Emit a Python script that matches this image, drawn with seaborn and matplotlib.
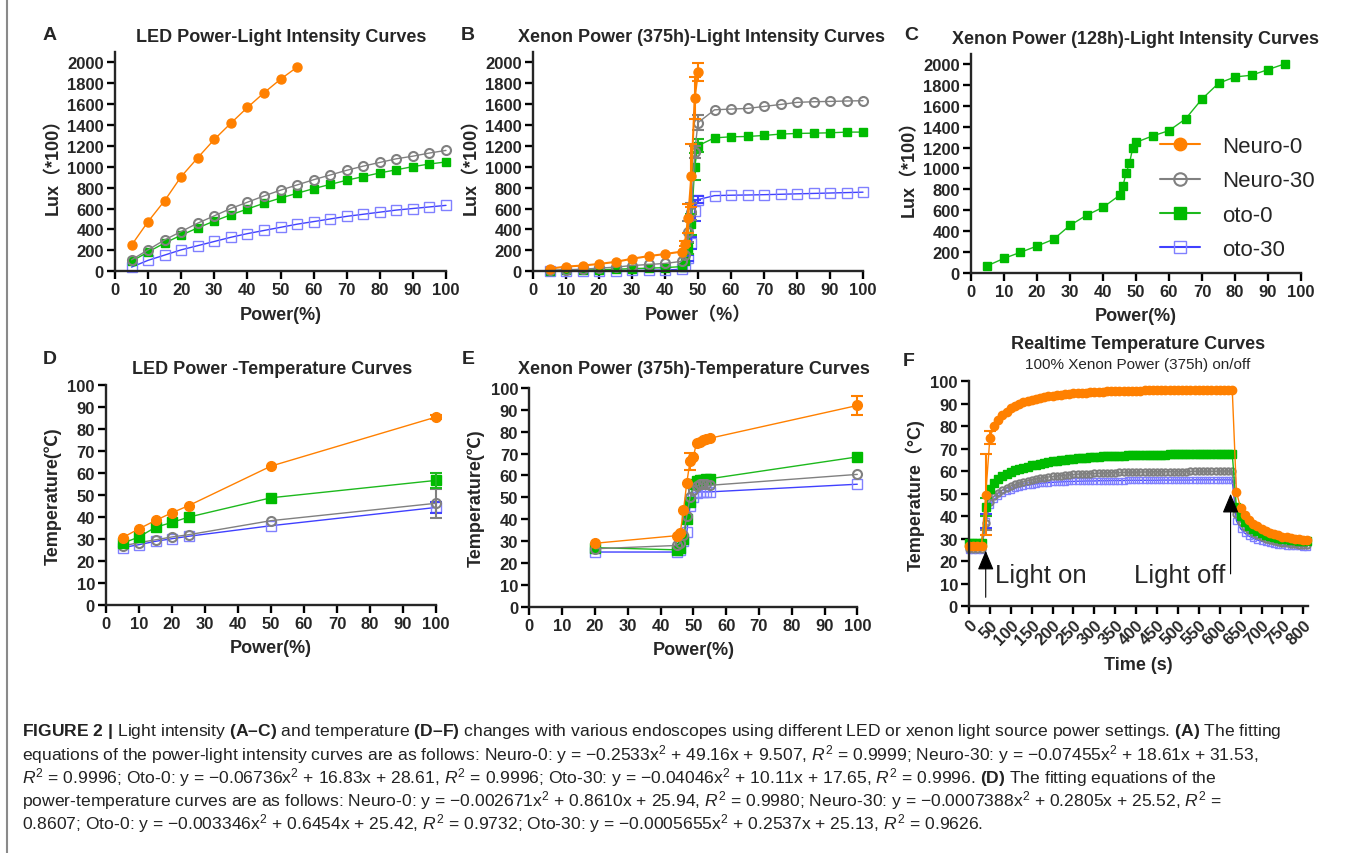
import matplotlib
matplotlib.use("Agg")
import numpy as np
import pandas as pd
import seaborn as sns
import matplotlib.pyplot as plt
from matplotlib.lines import Line2D

W, H = 1355, 854

# ---------------- data ----------------
series_names = ["Neuro-0", "Neuro-30", "oto-0", "oto-30"]

# A: LED power vs lux
a_power_n0 = [5, 10, 15, 20, 25, 30, 35, 40, 45, 50, 55]
a_lux_n0 = [250, 475, 675, 905, 1085, 1260, 1415, 1565, 1705, 1835, 1950]
a_power = [5, 10, 15, 20, 25, 30, 35, 40, 45, 50, 55, 60, 65, 70, 75, 80, 85, 90, 95, 100]
a_lux_n30 = [110, 205, 300, 380, 460, 530, 600, 660, 720, 775, 825, 875, 920, 965, 1005, 1040, 1075, 1100, 1130, 1155]
a_lux_o0 = [95, 185, 270, 345, 415, 480, 540, 595, 650, 700, 745, 790, 830, 870, 905, 940, 970, 1000, 1025, 1045]
a_lux_o30 = [40, 105, 155, 205, 245, 285, 325, 360, 390, 420, 450, 475, 500, 525, 545, 565, 585, 600, 615, 630]

# B: xenon (375h) power vs lux
b_power_n0 = [5, 10, 15, 20, 25, 30, 35, 40, 45, 46, 47, 48, 49, 50]
b_lux_n0 = [25, 45, 55, 70, 90, 120, 145, 165, 188, 265, 505, 915, 1655, 1905]
b_err_n0 = [0, 0, 0, 0, 0, 0, 0, 0, 0, 25, 140, 300, 200, 85]
b_power = [5, 10, 15, 20, 25, 30, 35, 40, 45, 46, 47, 48, 49, 50, 55, 60, 65, 70, 75, 80, 85, 90, 95, 100]
b_lux_n30 = [10, 15, 20, 30, 40, 55, 65, 75, 95, 160, 380, 570, 1140, 1420, 1543, 1550, 1556, 1575, 1594, 1614, 1620, 1623, 1627, 1630]
b_err_n30 = [0, 0, 0, 0, 0, 0, 0, 0, 0, 0, 100, 80, 60, 70, 0, 0, 0, 0, 0, 0, 0, 0, 0, 0]
b_lux_o0 = [5, 10, 12, 15, 20, 25, 30, 35, 45, 100, 220, 450, 1000, 1200, 1275, 1285, 1288, 1298, 1311, 1317, 1320, 1323, 1330, 1330]
b_err_o0 = [0, 0, 0, 0, 0, 0, 0, 0, 0, 0, 50, 100, 130, 60, 0, 0, 0, 0, 0, 0, 0, 0, 0, 0]
b_lux_o30 = [0, 2, 4, 5, 6, 8, 10, 12, 20, 50, 130, 270, 580, 685, 723, 727, 729, 732, 736, 740, 744, 748, 752, 756]
b_err_o30 = [0, 0, 0, 0, 0, 0, 0, 0, 0, 0, 30, 60, 100, 30, 0, 0, 0, 0, 0, 0, 0, 0, 0, 0]

# C: xenon (128h) power vs lux, oto-0 only
c_power = [5, 10, 15, 20, 25, 30, 35, 40, 45, 46, 47, 48, 49, 50, 55, 60, 65, 70, 75, 80, 85, 90, 95]
c_lux_o0 = [70, 140, 198, 258, 322, 456, 552, 628, 743, 829, 954, 1049, 1193, 1250, 1311, 1362, 1474, 1665, 1815, 1876, 1892, 1946, 2000]

# D: LED power vs temperature
d_power = [5, 10, 15, 20, 25, 50, 100]
d_temp_n0 = [30.5, 34.5, 38.3, 41.8, 45.0, 63.0, 85.3]
d_temp_n30 = [26.7, 28.2, 29.5, 30.8, 31.8, 38.2, 46.1]
d_temp_o0 = [27.9, 30.8, 35.2, 37.4, 39.8, 48.6, 56.5]
d_temp_o30 = [25.9, 27.3, 28.8, 30.0, 31.1, 35.9, 44.2]
d_err_n0 = [0, 0, 0, 0, 0, 0, 1.0]
d_err_n30 = [0, 0, 0, 0, 0, 0, 6.5]
d_err_o0 = [0, 0, 0, 0, 0, 0, 3.5]
d_err_o30 = [0, 0, 0, 0, 0, 0, 2.5]

# E: xenon (375h) power vs temperature
e_power = [20, 45, 46, 47, 48, 49, 50, 51, 52, 53, 54, 55, 100]
e_temp_n0 = [29, 32.5, 33.5, 44, 56.5, 66.5, 68.5, 75, 75.5, 76, 76.5, 77, 92]
e_temp_n30 = [26.5, 28, 29, 33, 41.5, 50, 53.5, 55, 56, 56, 56, 55.5, 60.5]
e_temp_o0 = [27, 26, 27, 31, 40, 48, 56, 57.5, 58, 58, 58.5, 58.5, 68.5]
e_temp_o30 = [25, 25, 26, 30, 34, 46, 50, 52, 52.5, 52.5, 52.5, 52.5, 56]
e_err_n0 = [0, 0, 0, 0, 0, 4, 0, 0, 0, 0, 0, 0, 4.5]

# F: realtime temperature, 100% xenon on/off
f_time = [0, 10, 20, 30, 40, 50, 60, 70, 80, 90, 100, 110, 120, 130, 140, 150, 160, 170, 180, 190,
          200, 210, 220, 230, 240, 250, 260, 270, 280, 290, 300, 310, 320, 330, 340, 350, 360, 370, 380, 390,
          400, 410, 420, 430, 440, 450, 460, 470, 480, 490, 500, 510, 520, 530, 540, 550, 560, 570, 580, 590,
          600, 610, 620, 630, 640, 650, 660, 670, 680, 690, 700, 710, 720, 730, 740, 750, 760, 770, 780, 790,
          800, 810]
f_temp_n0 = [27, 27, 27, 27,
             49.5, 75, 80, 83, 85, 86.5, 88, 89, 90, 90.7,
             91.3, 91.8, 92.2, 92.6, 93, 93.3, 93.5, 93.8, 94, 94.2,
             94.4, 94.6, 94.7, 94.9, 95, 95.1, 95.2, 95.3, 95.4, 95.5,
             95.5, 95.6, 95.7, 95.7, 95.8, 95.8, 95.9, 95.9, 96, 96,
             96, 96, 96.1, 96.1, 96.1, 96.1, 96.2, 96.2, 96.2, 96.2,
             96.2, 96.2, 96.3, 96.3, 96.3, 96.3, 96.3, 96.3, 96.3, 96.3,
             51, 43.5, 40.5, 38.5, 36.8, 35.5, 34.4, 33.5, 32.7, 32, 31.5, 31, 30.6, 30.3, 30, 29.8, 29.6, 29.4]
f_temp_n30 = [25.5, 25.5, 25.5, 25.5,
              37, 46.5, 49, 50.5, 51.7, 52.7, 53.5, 54.2, 54.8, 55.3,
              55.8, 56.2, 56.6, 56.9, 57.2, 57.5, 57.7, 57.9, 58.1, 58.3,
              58.4, 58.6, 58.7, 58.8, 58.9, 59, 59.1, 59.2, 59.2, 59.3,
              59.4, 59.4, 59.5, 59.5, 59.6, 59.6, 59.6, 59.7, 59.7, 59.7,
              59.8, 59.8, 59.8, 59.8, 59.9, 59.9, 59.9, 59.9, 59.9, 60,
              60, 60, 60, 60, 60, 60, 60.1, 60.1, 60.1, 60.1,
              41, 37.5, 35.3, 33.8, 32.6, 31.6, 30.8, 30.1, 29.5, 29, 28.6, 28.3, 28, 27.8, 27.6, 27.4, 27.2, 27.1]
f_temp_o0 = [28, 28, 28, 28,
             44, 52, 55, 56.5, 57.8, 58.8, 59.7, 60.4, 61, 61.6,
             62.1, 62.6, 63, 63.4, 63.8, 64.1, 64.4, 64.7, 65, 65.2,
             65.4, 65.6, 65.8, 66, 66.1, 66.3, 66.4, 66.5, 66.6, 66.7,
             66.8, 66.9, 67, 67, 67.1, 67.1, 67.2, 67.2, 67.3, 67.3,
             67.3, 67.4, 67.4, 67.4, 67.5, 67.5, 67.5, 67.5, 67.6, 67.6,
             67.6, 67.6, 67.6, 67.7, 67.7, 67.7, 67.7, 67.7, 67.7, 67.7,
             44, 40, 37.5, 35.8, 34.5, 33.4, 32.5, 31.8, 31.2, 30.7, 30.3, 30, 29.7, 29.5, 29.3, 29.1, 29, 28.9]
f_temp_o30 = [25, 25, 25, 25,
              38, 45, 47.5, 49, 50.2, 51.1, 51.9, 52.5, 53, 53.4,
              53.8, 54.1, 54.4, 54.6, 54.8, 55, 55.1, 55.2, 55.3, 55.4,
              55.5, 55.5, 55.6, 55.6, 55.7, 55.7, 55.7, 55.8, 55.8, 55.8,
              55.9, 55.9, 55.9, 55.9, 56, 56, 56, 56, 56, 56,
              56, 56, 56.1, 56.1, 56.1, 56.1, 56.1, 56.1, 56.1, 56.1,
              56.2, 56.2, 56.2, 56.2, 56.2, 56.2, 56.2, 56.2, 56.2, 56.2,
              38, 34.5, 32.5, 31.2, 30.2, 29.5, 28.9, 28.4, 28, 27.7, 27.4, 27.2, 27, 26.8, 26.7, 26.6, 26.5, 26.4]
f_err_time = [40, 50]
f_err_n0 = [18, 3]
f_err_n30 = [3, 0]
f_err_o0 = [4, 0]
f_err_o30 = [3, 0]

power_ticks = [0, 10, 20, 30, 40, 50, 60, 70, 80, 90, 100]
lux_ticks = [0, 200, 400, 600, 800, 1000, 1200, 1400, 1600, 1800, 2000]
temp_ticks = [0, 10, 20, 30, 40, 50, 60, 70, 80, 90, 100]
time_ticks = [0, 50, 100, 150, 200, 250, 300, 350, 400, 450, 500, 550, 600, 650, 700, 750, 800]

caption_lines = [
    r"$\mathbf{FIGURE\ 2\ |}$ Light intensity $\mathbf{(A–C)}$ and temperature $\mathbf{(D–F)}$ changes with various endoscopes using different LED or xenon light source power settings. $\mathbf{(A)}$ The fitting",
    r"equations of the power-light intensity curves are as follows: Neuro-0: y = −0.2533x$^2$ + 49.16x + 9.507, $R^2$ = 0.9999; Neuro-30: y = −0.07455x$^2$ + 18.61x + 31.53,",
    r"$R^2$ = 0.9996; Oto-0: y = −0.06736x$^2$ + 16.83x + 28.61, $R^2$ = 0.9996; Oto-30: y = −0.04046x$^2$ + 10.11x + 17.65, $R^2$ = 0.9996. $\mathbf{(D)}$ The fitting equations of the",
    r"power-temperature curves are as follows: Neuro-0: y = −0.002671x$^2$ + 0.8610x + 25.94, $R^2$ = 0.9980; Neuro-30: y = −0.0007388x$^2$ + 0.2805x + 25.52, $R^2$ =",
    r"0.8607; Oto-0: y = −0.003346x$^2$ + 0.6454x + 25.42, $R^2$ = 0.9732; Oto-30: y = −0.0005655x$^2$ + 0.2537x + 25.13, $R^2$ = 0.9626.",
]

# ---------------- style ----------------
sns.set_style("ticks")
plt.rcParams["font.family"] = ["Liberation Sans", "Noto Sans CJK SC", "DejaVu Sans"]
plt.rcParams["mathtext.fontset"] = "custom"
plt.rcParams["mathtext.rm"] = "Liberation Sans"
plt.rcParams["mathtext.it"] = "Liberation Sans:italic"
plt.rcParams["mathtext.bf"] = "Liberation Sans:bold"

styles = {
    "Neuro-0": dict(line="#FF8000", marker="o", face="#FF8000", edge="#FF8000", mew=1.0),
    "Neuro-30": dict(line="#808080", marker="o", face="none", edge="#808080", mew=1.5),
    "oto-0": dict(line="#1DB91D", marker="s", face="#00BB00", edge="#00BB00", mew=1.0),
    "oto-30": dict(line="#4040FF", marker="s", face="none", edge="#8080FF", mew=1.0),
}


def draw(ax, x, y, name, ms=6, err=None, err_x=None, lw=1.0):
    st = styles[name]
    sns.lineplot(x=x, y=y, ax=ax, color=st["line"], lw=lw, marker=st["marker"],
                 markersize=ms, markerfacecolor=st["face"], markeredgecolor=st["edge"],
                 markeredgewidth=st["mew"], errorbar=None, sort=False, clip_on=False)
    if err is not None:
        ex = x if err_x is None else err_x
        ey = [y[list(x).index(v)] for v in ex]
        keep = [i for i, e in enumerate(err) if e > 0]
        if keep:
            ax.errorbar([ex[i] for i in keep], [ey[i] for i in keep], yerr=[err[i] for i in keep],
                        fmt="none", ecolor=st["line"], elinewidth=1.5, capsize=4, capthick=1.5,
                        clip_on=False)


def px_axes(fig, x0, x1, yb, yt):
    return fig.add_axes([x0 / W, 1 - yb / H, (x1 - x0) / W, (yb - yt) / H])


def style_axes(ax, xlim, ylim, xticks, yticks, xlabel, ylabel, rot=False):
    ax.set_xlim(*xlim)
    ax.set_ylim(*ylim)
    if rot:
        ax.set_xticks(xticks, [str(v) for v in xticks], fontweight="bold", fontsize=12,
                      rotation=45, ha="right", rotation_mode="anchor")
    else:
        ax.set_xticks(xticks, [str(v) for v in xticks], fontweight="bold", fontsize=12)
    ax.set_yticks(yticks, [str(v) for v in yticks], fontweight="bold", fontsize=12)
    sns.despine(ax=ax)
    for s in ["left", "bottom"]:
        ax.spines[s].set_linewidth(1.7)
    ax.tick_params(width=1.7, length=6, pad=2, color="black")
    ax.set_xlabel(xlabel, fontweight="bold", fontsize=13, labelpad=6)
    ax.set_ylabel(ylabel, fontweight="bold", fontsize=13, labelpad=4)
    ax.set_facecolor("none")


fig = plt.figure(figsize=(W / 100, H / 100), dpi=100)
fig.add_artist(Line2D([7 / W, 7 / W], [0, 1], color="#8a8a8a", lw=1.5, transform=fig.transFigure))

# ---- A ----
axA = px_axes(fig, 115, 446, 272.3, 52.5)
draw(axA, a_power, a_lux_o30, "oto-30", ms=7)
draw(axA, a_power, a_lux_o0, "oto-0", ms=6)
draw(axA, a_power, a_lux_n30, "Neuro-30", ms=6.5)
draw(axA, a_power_n0, a_lux_n0, "Neuro-0", ms=6.5)
style_axes(axA, (0, 100), (0, 2100), power_ticks, lux_ticks, "Power(%)", "Lux（*100）")

# ---- B ----
axB = px_axes(fig, 533, 863, 272.3, 52.5)
draw(axB, b_power, b_lux_o30, "oto-30", ms=7, err=b_err_o30)
draw(axB, b_power, b_lux_o0, "oto-0", ms=6, err=b_err_o0)
draw(axB, b_power, b_lux_n30, "Neuro-30", ms=6.5, err=b_err_n30)
draw(axB, b_power_n0, b_lux_n0, "Neuro-0", ms=6.5, err=b_err_n0, lw=1.5)
style_axes(axB, (0, 100), (0, 2100), power_ticks, lux_ticks, "Power（%）", "Lux（*100）")

# ---- C ----
axC = px_axes(fig, 971, 1301, 274, 54.5)
draw(axC, c_power, c_lux_o0, "oto-0", ms=6)
style_axes(axC, (0, 100), (0, 2100), power_ticks, lux_ticks, "Power(%)", "Lux（*100）")
handles = []
for name in series_names:
    st = styles[name]
    handles.append(Line2D([0], [0], color=st["line"], lw=1.5, marker=st["marker"], markersize=9,
                          markerfacecolor=st["face"], markeredgecolor=st["edge"],
                          markeredgewidth=st["mew"]))
fig.legend(handles, series_names, loc="upper left", bbox_to_anchor=(1160 / W, 1 - 137 / H),
           frameon=False, fontsize=16, handlelength=1.8, handletextpad=1.0, labelspacing=0.6,
           borderpad=0, borderaxespad=0)

# ---- D ----
axD = px_axes(fig, 106, 436, 605.7, 385.7)
draw(axD, d_power, d_temp_o30, "oto-30", ms=7, err=d_err_o30)
draw(axD, d_power, d_temp_n30, "Neuro-30", ms=6.5, err=d_err_n30)
draw(axD, d_power, d_temp_o0, "oto-0", ms=7, err=d_err_o0)
draw(axD, d_power, d_temp_n0, "Neuro-0", ms=7, err=d_err_n0)
style_axes(axD, (0, 100), (0, 100), power_ticks, temp_ticks, "Power(%)", "Temperature(℃)")

# ---- E ----
axE = px_axes(fig, 529.3, 857.3, 607.7, 389)
draw(axE, e_power, e_temp_o30, "oto-30", ms=7)
draw(axE, e_power, e_temp_o0, "oto-0", ms=7)
draw(axE, e_power, e_temp_n30, "Neuro-30", ms=6.5)
draw(axE, e_power, e_temp_n0, "Neuro-0", ms=7, err=e_err_n0)
style_axes(axE, (0, 100), (0, 100), power_ticks, temp_ticks, "Power(%)", "Temperature(℃)")

# ---- F ----
axF = px_axes(fig, 969, 1308.3, 607.3, 382.3)
draw(axF, f_time, f_temp_o30, "oto-30", ms=4.5, err=f_err_o30, err_x=f_err_time)
draw(axF, f_time, f_temp_n30, "Neuro-30", ms=4.5, err=f_err_n30, err_x=f_err_time)
draw(axF, f_time, f_temp_o0, "oto-0", ms=5.5, err=f_err_o0, err_x=f_err_time)
draw(axF, f_time, f_temp_n0, "Neuro-0", ms=6, err=f_err_n0, err_x=f_err_time)
style_axes(axF, (0, 812), (0, 100), time_ticks, temp_ticks, "Time (s)", "Temperature（°C)", rot=True)
arrow = dict(arrowstyle="-|>,head_length=1.2,head_width=0.5", color="black", lw=0.8,
             shrinkA=0, shrinkB=0)
axF.annotate("", xy=(40, 24.7), xytext=(40, 4), arrowprops=arrow)
axF.annotate("", xy=(626, 50), xytext=(626, 14.4), arrowprops=arrow)
axF.text(62, 13.8, "Light on", fontsize=18.5, ha="left", va="center")
axF.text(613, 13.8, "Light off", fontsize=18.5, ha="right", va="center")

# ---- titles and panel letters ----
titles = [
    (281, 37, "LED Power-Light Intensity Curves"),
    (702, 37, "Xenon Power (375h)-Light Intensity Curves"),
    (1136, 39, "Xenon Power (128h)-Light Intensity Curves"),
    (272, 370, "LED Power -Temperature Curves"),
    (694, 370, "Xenon Power (375h)-Temperature Curves"),
    (1138, 345, "Realtime Temperature Curves"),
]
for x, y, t in titles:
    fig.text(x / W, 1 - y / H, t, ha="center", va="center", fontsize=13, fontweight="bold")
fig.text(1138 / W, 1 - 365 / H, "100% Xenon Power (375h) on/off", ha="center", va="center", fontsize=11)

letters = [(50, 36, "A"), (468, 36, "B"), (911, 35, "C"), (50, 360, "D"), (468, 360, "E"), (909, 361, "F")]
for x, y, t in letters:
    fig.text(x / W, 1 - y / H, t, ha="center", va="center", fontsize=14, fontweight="bold")

# ---- caption ----
cap_y = [732, 755, 778, 801, 824]
for y, line in zip(cap_y, caption_lines):
    fig.text(22 / W, 1 - y / H, line, ha="left", va="center", fontsize=12.6, color="#222222")

fig.savefig("out.png", dpi=100)
